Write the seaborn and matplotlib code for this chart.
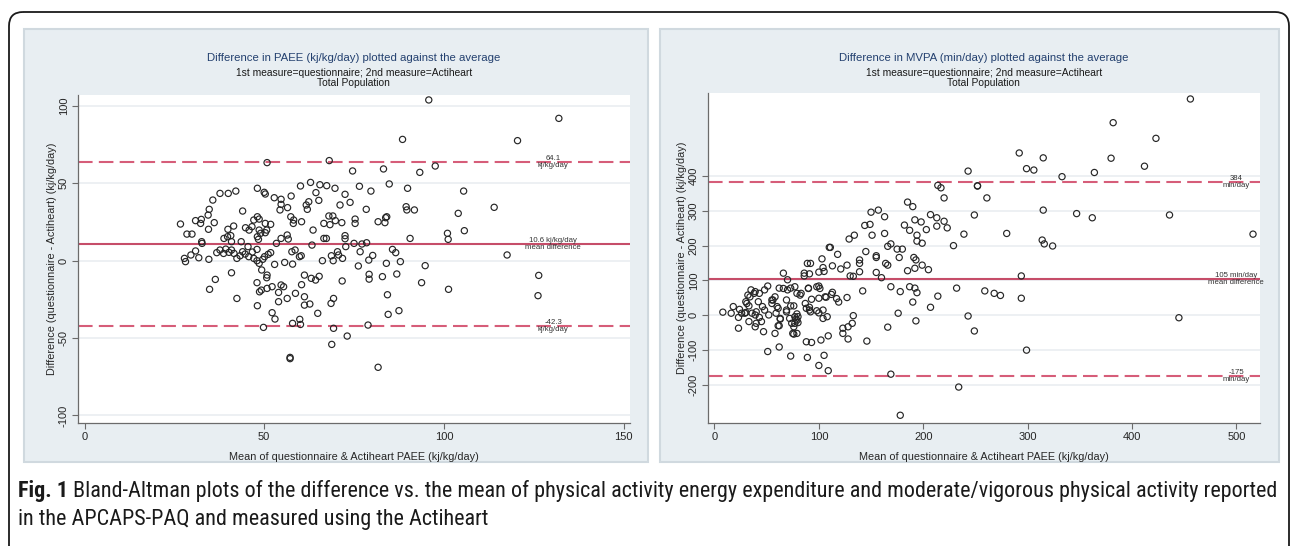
import matplotlib
matplotlib.use("Agg")
import matplotlib.pyplot as plt
import seaborn as sns
import pandas as pd
from matplotlib import font_manager
from matplotlib.patches import FancyBboxPatch, Rectangle

# ---------------- data ----------------
paee_mean = [95.8, 132, 88.5, 120.5, 50.8, 68.1, 97.6, 74.6, 83.2, 93.3, 84.8, 89.9, 76.5, 79.7, 62.9, 60.1,
             65.5, 67.4, 69.7, 64.4, 72.5, 105.5, 48.1, 50, 50.3, 37.7, 40, 42.1, 52.8, 54.7, 57.5, 65.2, 35.7,
             34.7, 44, 54.7, 56.5, 54.4, 61.7, 62, 62.4, 71.1, 73.9, 78.4, 89.5, 89.7, 91.8, 114, 104, 26.7, 30.9,
             32.5, 34.4, 36.1, 32.3, 39.9, 41.5, 34.5, 48.1, 48.6, 50.3, 51.8, 47.1, 44.8, 45.8, 46.6, 48.6, 50.7,
             57.4, 58.2, 58.1, 60.4, 68, 69.1, 69.8, 66.6, 68.3, 71.6, 75.3, 75.3, 81.7, 83.8, 84.1, 83.6, 63.6,
             66.6, 67.3, 72.5, 72.5, 78.5, 101, 101.2, 105.7, 90.6, 48.1, 48.4, 49, 50.3, 54.7, 56.4, 56.7, 53.4,
             38.8, 39.8, 40.7, 40.9, 43.6, 28.5, 29.9, 32.6, 32.7, 63.3, 77.2, 117.6, 27.8, 28.1, 29.6, 30.9, 31.8,
             34.6, 36.8, 37.7, 38.7, 39.3, 40.2, 40.9, 41.6, 42.4, 43.3, 44, 44.7, 45.5, 45.7, 46.7, 47.1, 48, 48.6,
             48, 49.6, 50.1, 51.1, 51.8, 52.9, 55.7, 57.7, 57.9, 58.6, 60.3, 66.2, 68.7, 69.2, 70.4, 70.7, 71.8,
             72.7, 76.7, 76.2, 79.1, 80.2, 84, 85.7, 86.6, 87.9, 94.8, 86.9, 82.9, 79.2, 79.2, 71.7, 64.3, 63.1,
             61.2, 65.3, 93.8, 126.4, 36.4, 40.9, 48, 50.8, 54.7, 34.8, 101.3, 42.4, 48.1, 48.7, 49.2, 50.8, 52.2,
             52.2, 53, 54, 54, 55.4, 56.4, 57.2, 57.2, 57.9, 58.7, 59.9, 60.1, 60.4, 61.2, 61.2, 62.7, 64.9, 68.6,
             69.3, 69.3, 68.8, 73.1, 78.9, 81.7, 84.3, 84.5, 87.5, 126.2, 49.8, 49.3, 50.7, 75, 59.8]
paee_diff = [103.9, 92, 78.4, 77.6, 63.4, 64.7, 61.2, 58, 59.3, 57.1, 49.6, 46.8, 48.1, 45, 50.6, 48.3,
             49.1, 48.5, 46.8, 44, 42.9, 45, 46.8, 44.2, 43.1, 43.5, 43.5, 45, 40.7, 39.7, 41.8, 39, 39.2,
             33.2, 32.1, 36.4, 34.3, 32.8, 36, 33.2, 38.1, 36, 37.7, 33.2, 34.9, 32.8, 32.8, 34.5, 30.6, 23.7, 25.9,
             26.7, 29.5, 24.6, 24.1, 20.3, 22.4, 20.3, 28.4, 26.9, 24.1, 23.5, 26.3, 21.3, 19.8, 22, 19.8, 19.8,
             28.4, 26.3, 24.1, 25.2, 28.9, 28.9, 25.9, 24.1, 23.3, 24.6, 26.9, 24.1, 25.2, 27.8, 28.4, 24.6, 19.8,
             14.4, 14.4, 16.2, 14.2, 11.6, 17.7, 13.8, 19.4, 14.4, 15.5, 13.8, 17.7, 18.1, 14.4, 16.6, 14, 11.2,
             14.4, 15.5, 16.2, 12.3, 12.3, 17.2, 17.2, 12.3, 11.2, 10.1, 10.8, 3.7, 1.5, -0.6, 3.7, 6.3, 1.9,
             0.9, 5.2, 6.9, 4.7, 7.5, 5.4, 6.9, 4.7, 1.5, 3.2, 5.8, 4.3, 9.1, 2.6, 5.6, 1.5, 0, -1.7,
             7.3, 0.9, 2.6, 4.1, 5.2, -2.4, -1.1, 5.8, -2.2, 6.9, 3.2, 0, 3.2, 0, 5.8, 3.7, 1.5,
             9.1, 5.8, -3.4, 0.4, 3.4, -1.7, 7.3, 5.2, -0.6, -3.2, -8.6, -10.3, -8.8, -11.9, -13.1, -12.5, -11.4,
             -9.3, -10.1, -14.2, -9.5, -12.1, -7.8, -14.2, -9.3, -15.7, -18.5, -18.5, -24.4, -29.1, -20.1, -19, -17.9, -16.8,
             -33.6, -37.7, -20.5, -26.5, -16.8, -24.4, -62.5, -63.3, -40.5, -21.1, -37.9, -41.2, -15.5, -23.3, -28.7, -28, -34, -27.6,
             -24.4, -43.7, -54.1, -48.7, -41.6, -68.9, -22, -34.7, -32.3, -22.6, -43.1, -6, -11, 11.2, 2.6]

mvpa_mean = [456, 382, 423, 292, 315, 380, 299, 306, 412, 243, 333, 364, 214, 217, 252, 252, 220, 261, 249, 315,
             347, 362, 436, 516, 280, 239, 314, 316, 324, 229, 185, 190, 157, 150, 144, 149, 163, 151, 163, 134,
             129, 182, 187, 192, 198, 207, 213, 213, 220, 223, 194, 203, 199, 194, 169, 166, 175, 180, 177, 191,
             193, 199, 205, 192, 185, 164, 166, 155, 160, 155, 155, 139, 139, 139, 145, 118, 110, 111, 103, 89,
             92, 113, 121, 127, 104, 105, 100, 91, 86, 86, 130, 133, 66, 70,
             294, 294, 445, 299, 234, 178, 169, 232, 259, 268, 274, 243, 249, 214, 207, 192, 187, 178, 169, 194,
             193, 190, 166, 176, 142, 146, 127, 133, 132, 128, 123, 123, 128, 117, 119, 113, 112, 108, 104, 107,
             109, 102, 105, 109, 100, 100, 101, 98, 91, 91, 93, 90, 88, 93, 89, 79, 80, 78, 77, 75, 79, 73, 83,
             79, 77, 73, 70, 73, 76, 69, 69, 66, 62, 61, 63, 62, 62, 58, 59, 55, 55, 51, 51, 48, 46, 48, 47, 43,
             42, 40, 39, 43, 38, 33, 33, 30, 32, 30, 24, 26, 23, 23, 18, 16, 8, 35,
             34, 31, 39, 82, 90, 98, 100, 106, 29, 36, 39, 40, 45, 52, 56, 58, 60, 63, 61, 69, 72, 74, 77, 79, 76,
             80, 76, 87, 88, 92, 100, 104]
mvpa_diff = [621, 553, 508, 466, 452, 451, 421, 417, 428, 414, 398, 410, 373, 366, 371, 372, 337, 337, 288, 302,
             292, 280, 288, 233, 235, 233, 216, 205, 199, 200, 325, 312, 302, 296, 258, 261, 283, 230, 235, 230,
             219, 259, 244, 274, 268, 289, 280, 256, 270, 251, 230, 246, 207, 213, 205, 198, 190, 190, 166, 166,
             159, 144, 131, 135, 128, 149, 144, 123, 108, 171, 166, 159, 149, 125, 183, 175, 195, 195, 162, 149,
             149, 142, 133, 144, 137, 126, 124, 119, 121, 113, 113, 112, 121, 102,
             113, 49, -7, -100, -206, -287, -169, 78, 70, 63, 57, -2, -45, 55, 23, 78, 82, 68, 82, 65,
             -16, 38, -34, 6, 70, -74, 51, -1, -23, -33, -37, -52, -68, 48, 38, 66, 60, -4, -9, 52,
             -59, -71, -115, -159, -144, 84, 77, 13, 23, 15, 46, 78, -76, -78, -121, 4, -4, -11, -23, -52, -52, -117, 63,
             63, 82, 78, 73, 27, 27, 44, 15, 77, 78, 20, -11, -30, -91, -52, 6, 34, 44, -104, 84, 73, 25, 15, -47, -6,
             39, 10, -33, 63, 63, 27, -18, 8, 58, 39, 17, 6, -6, -37, 25, 6, 9, 73,
             53, 34, 68, 58, 77, 82, 49, 53, 6, 6, 1, -23, -18, 1, 44, 53, 25, -9, -30, 10, -9, -23, -4, -14, -33,
             -21, -54, 34, 20, 10, 7, 15]

paee_limits = [64.1, 10.6, -42.3]          # upper limit, mean difference, lower limit
mvpa_limits = [384, 105, -175]
paee_notes = ["64.1\nkj/kg/day", "10.6 kj/kg/day\nmean difference", "-42.3\nkj/kg/day"]
mvpa_notes = ["384\nmin/day", "105 min/day\nmean difference", "-175\nmin/day"]
paee_xticks = [0, 50, 100, 150]
paee_yticks = [-100, -50, 0, 50, 100]
mvpa_xticks = [0, 100, 200, 300, 400, 500]
mvpa_yticks = [-200, -100, 0, 100, 200, 300, 400]
paee_title = "Difference in PAEE (kj/kg/day) plotted against the average"
mvpa_title = "Difference in MVPA (min/day) plotted against the average"
subtitle1 = "1st measure=questionnaire; 2nd measure=Actiheart"
subtitle2 = "Total Population"
ylabel = "Difference (questionnaire - Actiheart) (kj/kg/day)"
xlabel = "Mean of questionnaire & Actiheart PAEE (kj/kg/day)"
caption_bold = "Fig. 1"
caption_line1 = ("Bland-Altman plots of the difference vs. the mean of physical activity energy expenditure "
                 "and moderate/vigorous physical activity reported")
caption_line2 = "in the APCAPS-PAQ and measured using the Actiheart"

# ---------------- style ----------------
sns.set_style("white")
plt.rcParams["font.family"] = ["Liberation Sans", "DejaVu Sans"]
plt.rcParams["axes.unicode_minus"] = False

available = {f.name for f in font_manager.fontManager.ttflist}
cap_pref = ["Liberation Sans Narrow", "DejaVu Sans Condensed", "Roboto Condensed", "Roboto", "Liberation Sans"]
cap_font = [f for f in cap_pref if f in available] + ["DejaVu Sans"]

W, H = 1292, 546
fig = plt.figure(figsize=(W / 100, H / 100), dpi=100)
fig.patch.set_facecolor("white")

bg = fig.add_axes([0, 0, 1, 1])
bg.set_xlim(0, W)
bg.set_ylim(H, 0)
bg.axis("off")
bg.add_patch(FancyBboxPatch((9, 12), 1280, 600, boxstyle="round,pad=0,rounding_size=14",
                            fill=False, ec="#1a1a1a", lw=1.3))
PANEL_FC, PANEL_EC = "#e8eef2", "#d0d9df"
bg.add_patch(Rectangle((24, 29), 624, 433, fc=PANEL_FC, ec=PANEL_EC, lw=1.5))
bg.add_patch(Rectangle((660, 29), 619, 433, fc=PANEL_FC, ec=PANEL_EC, lw=1.5))

LINE_SOLID = "#c64d69"
LINE_DASH = "#d65d79"
TITLE_COL = "#23406f"


def ax_at(x0, y0, x1, y1):
    return fig.add_axes([x0 / W, 1 - y1 / H, (x1 - x0) / W, (y1 - y0) / H])


def panel(box, xs, ys, xlim, ylim, xticks, yticks, limits, notes, note_x, title, ylab_x):
    x0, y0, x1, y1 = box
    ax = ax_at(*box)
    ax.set_facecolor("white")
    df = pd.DataFrame({"mean": xs, "diff": ys})
    sns.scatterplot(data=df, x="mean", y="diff", ax=ax, marker="o", s=20, linewidth=0.85, zorder=3)
    pts = ax.collections[-1]
    pts.set_facecolor("none")
    pts.set_edgecolor("#262626")
    up, mid, lo = limits
    ax.axhline(mid, color=LINE_SOLID, lw=1.5, zorder=2)
    for v in (up, lo):
        ax.axhline(v, color=LINE_DASH, lw=1.5, ls=(0, (7, 3)), zorder=2)
    for v, t in zip(limits, notes):
        ax.text(note_x, v, t, ha="center", va="center", fontsize=5.6, color="#333333",
                linespacing=1.0, zorder=4)
    ax.set_xlim(*xlim)
    ax.set_ylim(*ylim)
    ax.set_xticks(xticks)
    ax.set_yticks(yticks)
    ax.grid(axis="y", color="#eceff2", lw=1.3)
    ax.grid(axis="x", visible=False)
    ax.set_axisbelow(True)
    for s in ("top", "right"):
        ax.spines[s].set_visible(False)
    for s in ("left", "bottom"):
        ax.spines[s].set_color("#6b6b6b")
        ax.spines[s].set_linewidth(0.9)
    ax.tick_params(axis="both", direction="out", length=4, width=0.8, color="#6b6b6b",
                   labelsize=8, labelcolor="#262626", left=True, bottom=True)
    ax.tick_params(axis="x", pad=2.5)
    ax.tick_params(axis="y", pad=2.5, labelrotation=90)
    for lab in ax.get_yticklabels():
        lab.set_va("center")
    ax.set_xlabel(xlabel, fontsize=7.8, color="#262626")
    ax.set_ylabel(ylabel, fontsize=7.8, color="#262626")
    ax.xaxis.set_label_coords(0.5, (y1 - 456.5) / (y1 - y0))
    ax.xaxis.label.set_va("center")
    ax.yaxis.set_label_coords((ylab_x - x0) / (x1 - x0), 0.5)
    ax.yaxis.label.set_va("center")
    cx = (x0 + x1) / 2
    bg.text(cx, 58, title, ha="center", va="center", fontsize=8.2, color=TITLE_COL)
    bg.text(cx, 73, subtitle1, ha="center", va="center", fontsize=7.4, color="#1a1a1a")
    bg.text(cx, 83.5, subtitle2, ha="center", va="center", fontsize=7.4, color="#1a1a1a")
    return ax


panel((77.7, 95, 630, 423), paee_mean, paee_diff, (-1.9, 151.8), (-104.9, 107.1),
      paee_xticks, paee_yticks, paee_limits, paee_notes, 130.4, paee_title, 52)
panel((707.7, 93, 1260, 423), mvpa_mean, mvpa_diff, (-6.5, 522.7), (-309.2, 638.2),
      mvpa_xticks, mvpa_yticks, mvpa_limits, mvpa_notes, 500, mvpa_title, 682)

# ---------------- caption ----------------
renderer = fig.canvas.get_renderer()
fs = 13.0
tb = bg.text(18, 491, caption_bold, fontsize=fs, fontweight="bold", family=cap_font,
             ha="left", va="center", color="#1a1a1a")
t1 = bg.text(0, 491, caption_line1, fontsize=fs, family=cap_font, ha="left", va="center", color="#1a1a1a")
t2 = bg.text(18, 520, caption_line2, fontsize=fs, family=cap_font, ha="left", va="center", color="#1a1a1a")


def layout_caption(size):
    for t in (tb, t1, t2):
        t.set_fontsize(size)
    wb = tb.get_window_extent(renderer).width
    t1.set_x(18 + wb + size * 0.3)
    return t1.get_window_extent(renderer).x1


end = layout_caption(fs)
fs = min(fs * (1284 - 18) / (end - 18), 16.5)
end = layout_caption(fs)
fs = min(fs * (1284 - 18) / (end - 18), 16.5)
layout_caption(fs)

fig.savefig("out.png", dpi=100, facecolor="white")
